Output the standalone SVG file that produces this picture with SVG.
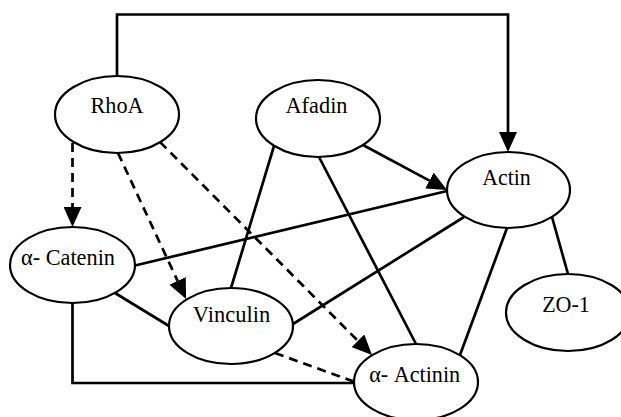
<svg xmlns="http://www.w3.org/2000/svg" width="621" height="417" viewBox="0 0 621 417">
<style>
.node ellipse{fill:#fff;stroke:#000;stroke-width:2.2}
.node text{font-family:'Liberation Serif','Times New Roman',serif;font-size:23.5px;fill:#000;text-anchor:middle}
.e{fill:none;stroke:#000;stroke-width:2.7}
.d{stroke-dasharray:9,6}
</style>
<defs>
<marker id="ah" viewBox="0 0 20 18" refX="0" refY="9" markerWidth="20" markerHeight="18" markerUnits="userSpaceOnUse" orient="auto">
<path d="M0,0 L20,9 L0,18 z" fill="#000"/>
</marker>
</defs>
<g id="connectors">
<polyline class="e" points="117,76 117,14.5 508,14.5 508,132" marker-end="url(#ah)"/>
<line class="e" x1="363" y1="145" x2="429.4" y2="180.6" marker-end="url(#ah)"/>
<line class="e" x1="135" y1="265.5" x2="447" y2="191"/>
<line class="e" x1="274" y1="146" x2="231" y2="288"/>
<line class="e" x1="319" y1="157" x2="416" y2="344"/>
<line class="e" x1="464" y1="217" x2="293" y2="324"/>
<line class="e" x1="507" y1="228" x2="460" y2="355"/>
<line class="e" x1="552" y1="217" x2="568" y2="274"/>
<line class="e" x1="115" y1="293" x2="169" y2="326"/>
<polyline class="e" points="72.5,303 72.5,383 355,383"/>
<line class="e d" x1="72.5" y1="143" x2="72.5" y2="207" marker-end="url(#ah)"/>
<line class="e d" x1="118" y1="153" x2="177.6" y2="280.9" marker-end="url(#ah)"/>
<line class="e d" x1="160" y1="142" x2="357.9" y2="340.8" marker-end="url(#ah)"/>
<line class="e d" x1="275" y1="353" x2="355" y2="382"/>
</g>
<g id="RhoA" class="node"><ellipse cx="117" cy="114.5" rx="62" ry="38.5"/><text x="117" y="113" textLength="53" lengthAdjust="spacingAndGlyphs">RhoA</text></g>
<g id="Afadin" class="node"><ellipse cx="318" cy="118.5" rx="62" ry="38.5"/><text x="316.5" y="113" textLength="62" lengthAdjust="spacingAndGlyphs">Afadin</text></g>
<g id="Actin" class="node"><ellipse cx="508.5" cy="190" rx="61.5" ry="38"/><text x="506.5" y="185" textLength="48.5" lengthAdjust="spacingAndGlyphs">Actin</text></g>
<g id="aCatenin" class="node"><ellipse cx="72.5" cy="265" rx="62.5" ry="38"/><text x="68" y="265" textLength="94" lengthAdjust="spacingAndGlyphs">α- Catenin</text></g>
<g id="Vinculin" class="node"><ellipse cx="231" cy="326" rx="62" ry="38"/><text x="231.5" y="322.3" textLength="77.3" lengthAdjust="spacingAndGlyphs">Vinculin</text></g>
<g id="aActinin" class="node"><ellipse cx="416" cy="382" rx="62" ry="38"/><text x="414.7" y="381.7" textLength="91" lengthAdjust="spacingAndGlyphs">α- Actinin</text></g>
<g id="ZO1" class="node"><ellipse cx="568" cy="312.5" rx="62" ry="38.5"/><text x="566" y="312" textLength="47.7" lengthAdjust="spacingAndGlyphs">ZO-1</text></g>
</svg>
